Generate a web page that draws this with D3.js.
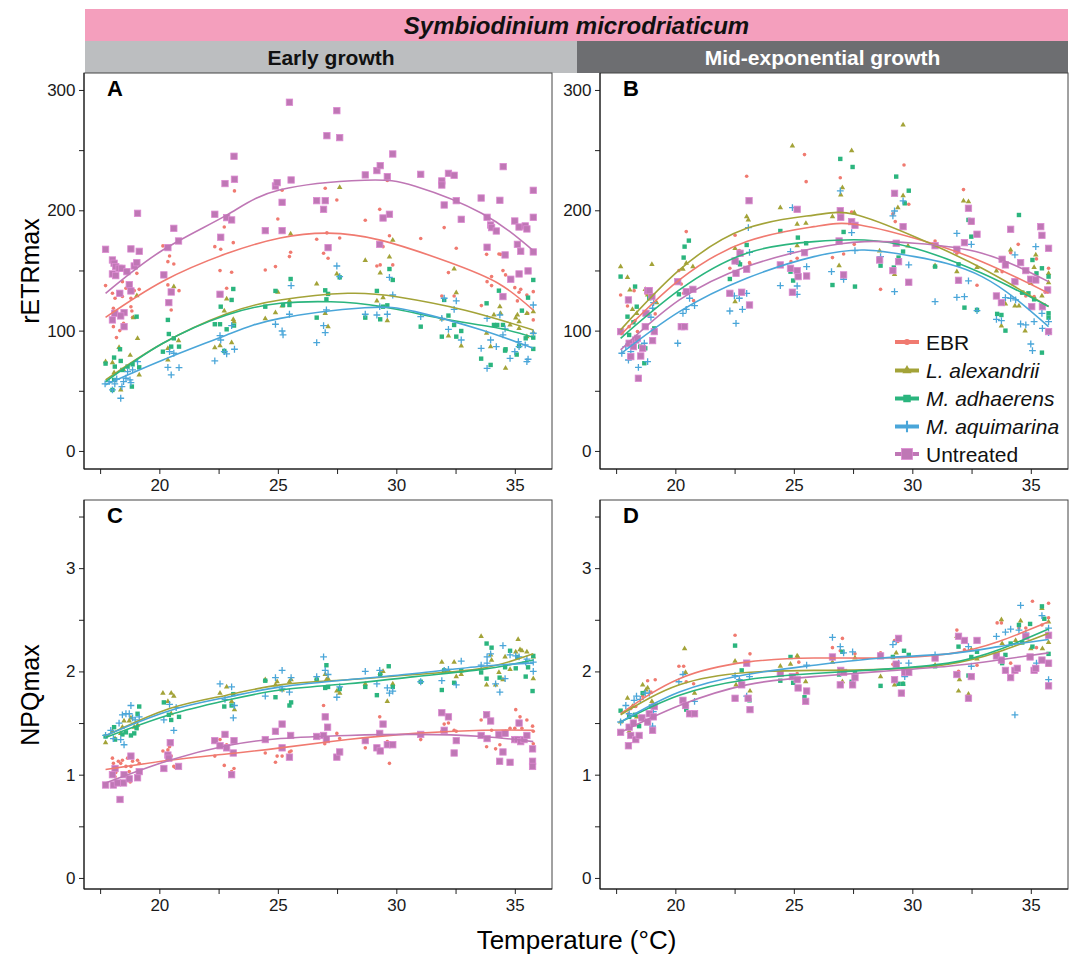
<!DOCTYPE html>
<html>
<head>
<meta charset="utf-8">
<script src="https://cdn.jsdelivr.net/npm/d3@7"></script>
<style>
  body { margin: 0; background: #fff; }
  text { font-family: "Liberation Sans", Arial, sans-serif; }
</style>
</head>
<body>
<svg id="chart" width="1073" height="954"></svg>
<script>
const treatments = ['EBR', 'L. alexandrii', 'M. adhaerens', 'M. aquimarina', 'Untreated'];
const italicName = [false, true, true, true, false];
const colors = ['#f07a70', '#a3a338', '#2bb57e', '#4aa6d9', '#bf77b5'];
const shapes = ['circle', 'triangle', 'square', 'plus', 'bigsquare'];

const xMajor = [20, 25, 30, 35];
const xMinor = [17.5, 22.5, 27.5, 32.5];
const retrMajor = [0, 100, 200, 300];
const retrMinor = [50, 150, 250];
const npqMajor = [0, 1, 2, 3];
const npqMinor = [0.5, 1.5, 2.5, 3.5];

// A: early growth, rETRmax  [temperature, value]
const A_EBR = [[17.73,137.4],[18.02,131],[18.13,126.9],[18.06,118.6],[18.06,103.3],[18.19,94.2],[18.33,100],[18.44,140.7],[18.44,128.3],[18.49,106.1],[18.59,135.2],[18.8,126.9],[18.8,119.9],[18.84,116.3],[18.94,133.2],[19.05,147.6],[19.15,134.3],[18.87,111.1],[20.15,170.4],[20.36,157.3],[20.36,138],[20.43,162],[20.61,155.4],[20.5,117.2],[20.83,133.2],[22.34,169.8],[22.56,149.9],[22.59,167.6],[22.74,186.1],[22.84,135.2],[23.05,148.5],[23.12,173.1],[23.17,216.1],[24.47,150.4],[24.9,153.2],[25,192.8],[25.18,216.6],[25.49,161.5],[25.54,165.1],[26.64,175.9],[27,218.3],[27.07,181.2],[26.93,164.3],[27.12,160.1],[27.49,208.6],[27.61,177],[28.69,191.7],[29.18,153.7],[29.3,200.8],[29.32,154.6],[29.62,224.7],[29.71,178.9],[29.85,154.6],[29.44,169.8],[31.03,176.5],[32.02,185.6],[32.2,148.2],[32.44,128.8],[32.53,168.4],[31.92,128.8],[33.81,163.4],[33.83,140.7],[34.02,137.4],[34.02,144.9],[34.33,163.7],[34.4,163.4],[34.5,149.9],[34.61,146.3],[35,135.7],[35.18,131.9],[35.25,134.3],[35.51,129.6],[35.78,132.4],[35.78,108.9],[35.11,124.7],[35.54,114.4],[33.59,120.8]];
const A_Lal = [[17.73,74.2],[18.02,73.4],[18.09,65.1],[18.3,86.1],[18.37,50.7],[18.77,79.5],[18.91,110.8],[19.05,129.1],[19.08,93.6],[19.15,63.2],[18.49,67.3],[20.61,136.6],[20.81,91.7],[20.36,85.3],[20.36,75.6],[22.34,85.9],[22.56,87.5],[22.74,116.3],[22.84,126.3],[23.05,90],[23.12,109.4],[23.15,107.5],[24.47,110],[24.9,115],[25,131.9],[25.18,120.5],[25.54,180.3],[25.49,124.7],[26.64,138.8],[27,114.4],[27.12,103.3],[27.49,147.1],[27.61,219.1],[28.69,158.4],[29.18,124.7],[29.32,148],[29.44,127.4],[29.62,108.3],[29.71,161.2],[29.85,175.1],[31.92,109.7],[32.2,95.6],[32.44,151.2],[32.53,131.6],[32.74,87.3],[33.81,97.8],[33.98,86.7],[34.12,113],[34.37,119.9],[34.4,114.4],[34.61,68.7],[34.8,104.7],[35.04,110.5],[35.11,113],[35.18,107.5],[35.51,114.4],[35.78,115.8],[35.78,98.3],[35.18,101.9],[35.51,95]];
const A_Mad = [[17.73,72.6],[18.09,77.6],[18.12,70.1],[18.34,84.5],[18.37,74.8],[18.44,67.3],[18.66,70.1],[18.84,53.5],[18.87,72],[19.04,111.6],[19.15,69.5],[18.02,50.7],[18.09,59],[20.36,108.9],[20.4,97.2],[20.5,86.7],[20.83,86.7],[20.15,82.5],[20.61,93.6],[22.34,105.3],[22.56,105.3],[22.59,119.9],[22.74,83.1],[22.84,101.1],[23.05,125.5],[23.12,134.6],[23.15,104.2],[24.47,119.9],[24.9,133],[25.22,121.3],[25.54,142.9],[25.49,121.3],[26.64,110.8],[27,133.5],[27.05,126],[27.12,130.5],[27.61,144.3],[28.69,110.8],[29.18,133],[29.32,109.4],[29.44,119.9],[29.62,121],[29.71,151.2],[29.85,142.1],[31.03,103.3],[31.92,95],[32.02,125.5],[32.2,112.5],[32.44,104.7],[32.53,95],[32.74,99.7],[33.58,76.7],[33.81,122.7],[33.98,71.5],[34.12,104.7],[34.26,104.7],[34.33,133.2],[34.5,104.7],[34.59,83.4],[34.61,84.5],[35.08,80.1],[35.18,87.3],[35.46,93.6],[35.56,127.4],[35.78,142.1],[35.78,94.2],[35.78,84.8],[35.3,116.6]];
const A_Maq = [[17.71,55.7],[17.88,57.6],[18.02,50.7],[18.12,55.7],[18.2,59.8],[18.37,43.8],[18.42,53.5],[18.49,57.6],[18.59,60.4],[18.66,65.9],[18.76,59],[18.8,56.8],[18.87,67.3],[19.08,74.2],[20.36,69.5],[20.43,82.5],[20.5,63.2],[20.61,81.2],[20.83,69.3],[22.34,74.8],[22.56,95.8],[22.59,92.2],[22.74,82.5],[22.84,80.6],[23.05,104.2],[23.17,84.5],[24.9,105.3],[25.18,99.7],[25.22,96.4],[25.49,113.6],[25.56,137.4],[26.64,90],[26.93,104.2],[27,98.3],[27.05,117.2],[27.49,153.7],[27.61,144.9],[28.69,113.6],[29.18,113],[29.3,119.9],[29.62,113.6],[29.71,144.3],[29.85,129.6],[31.03,111.6],[31.92,110.2],[32.02,126.9],[32.2,101.1],[32.44,117.7],[32.53,124.7],[32.74,92.2],[33.58,85.3],[33.83,110.2],[33.83,68.7],[33.98,92.2],[34.22,86.7],[34.37,113],[34.59,101.4],[34.8,77],[35,82.5],[35.15,90.9],[35.18,86.7],[35.44,88.1],[35.51,74.2],[35.56,76.2],[35.78,121.3],[35.78,97.8],[34.5,96.4]];
const A_Unt = [[17.73,167.6],[18.02,158.7],[18.02,147.1],[18.09,156],[18.16,153.2],[18.16,145.7],[18.3,151.8],[18.42,151.8],[18.63,149],[18.8,167.9],[18.94,153.7],[19.05,156.5],[19.08,197.5],[19.15,165.9],[18.73,138.2],[18.8,133],[18.33,131],[18.51,115],[18.12,114.4],[18.02,108.9],[18.37,112.2],[18.51,103.3],[20.19,146.3],[20.36,169],[20.61,185],[20.81,174.5],[20.4,123.3],[20.5,132.1],[22.34,196.7],[22.59,177.6],[22.77,222.2],[22.84,193.9],[23.05,192],[23.15,244.9],[23.17,225.8],[22.56,130.2],[24.47,183.1],[24.9,220.2],[24.97,223],[25.18,206.6],[25.18,183.1],[25.56,225.2],[25.49,289.8],[26.64,208],[26.93,200.8],[27,208],[27.07,262],[27.12,169],[27.49,282.8],[27.61,260.4],[28.69,229.4],[29.18,233],[29.32,237.1],[29.62,228],[29.71,196.7],[29.85,246.8],[29.44,193.6],[29.3,171.7],[31.03,229.9],[31.92,224.4],[31.92,221],[32.02,204.4],[32.2,230.7],[32.44,229.1],[32.53,208],[32.74,192.5],[33.58,210.2],[33.83,194.2],[33.83,169.3],[33.98,187.8],[34.02,185.6],[34.22,182.8],[34.37,208.3],[34.51,236.3],[34.59,162.9],[35,191.1],[35.11,171.7],[35.18,186.1],[35.25,166],[35.44,187],[35.51,184.5],[35.56,149.6],[35.78,216.6],[35.78,194.2],[35.78,165.4],[35.18,147.1],[34.83,142.7],[34.5,128.3]];
const A_fitEBR = [[17.73,111],[20.15,141],[22.84,164],[25.1,177],[27.1,181],[29.37,175],[32.2,157],[34.33,139],[35.78,117]];
const A_fitLal = [[17.73,59],[20.15,89.5],[22.84,114],[25.1,125.5],[27.95,131],[30.08,128],[32.9,117],[35.78,100.5]];
const A_fitMad = [[17.73,57.6],[20.15,89.5],[22.84,113],[25.1,122.7],[27.24,124],[29.37,120],[32.2,109],[34.33,102],[35.78,94.5]];
const A_fitMaq = [[17.73,55],[20.15,75.6],[22.84,96.4],[25.1,110.2],[28.66,119],[30.8,115.8],[33.6,100.5],[35.78,85.3]];
const A_fitUnt = [[17.73,131],[20.15,167],[22.84,196],[25.1,217],[28.66,225],[30.8,220],[33.6,197.5],[35.78,166.5]];

// B: mid-exponential growth, rETRmax
const B_EBR = [[17.69,129.6],[17.98,120.5],[18.26,133.2],[18.3,108.3],[18.05,103.3],[18.4,99.2],[18.76,131],[18.97,131],[19.15,113.9],[20.15,149.9],[20.25,138.8],[20.46,182.3],[20.35,131],[20.77,124.9],[22.3,151.8],[22.52,179.2],[22.7,166.5],[23.01,228.3],[23.13,156.5],[23.15,155.4],[24.43,155.4],[24.88,157.3],[25.14,160.1],[25.45,246.3],[25.52,223.8],[26.63,160.7],[26.96,227.1],[27.1,163.7],[27.44,198.6],[27.55,171.7],[28.66,134.3],[29.18,197],[29.28,190.6],[29.65,237.7],[29.85,205],[30.96,174.5],[31.88,164.3],[32.16,217.2],[32.73,137.7],[33.79,149],[34.15,164.8],[34.47,171.7],[34.61,131],[34.79,128.8],[35.14,128.3],[35.24,159.6],[35.75,151.8],[35.61,131.9]];
const B_Lal = [[17.69,153.2],[17.98,144.3],[18.08,133.8],[18.19,117.7],[18.37,114.4],[18.73,134.3],[18.83,129.6],[19.01,155.1],[19.21,123.3],[20.32,151],[20.46,156],[20.74,153.2],[22.52,168.4],[22.52,124.1],[23.01,194.7],[23.08,192],[24.43,202.2],[24.94,253.5],[25.14,188.4],[25.14,170.6],[25.51,189.2],[26.63,194.7],[26.91,154],[26.98,212.7],[27.05,218.8],[27.44,249.6],[27.55,198.1],[28.62,166.2],[29.25,146.8],[29.39,202.2],[29.61,212.2],[29.61,270.9],[29.82,170.4],[30.96,154],[31.88,149],[32.16,207.8],[32.37,207.2],[32.49,189.2],[32.73,152.6],[33.55,149.6],[33.76,103.9],[33.93,122.2],[34.15,167],[34.33,120.5],[34.5,120.5],[34.76,99.7],[35,139.3],[35.21,162.9],[35.47,128.8],[35.75,147.6],[35.75,139.9],[35.14,152.6]];
const B_Mad = [[17.69,144.9],[17.98,111.6],[18.05,96.4],[18.23,106.9],[18.3,136.6],[18.37,119.9],[18.52,86.7],[18.69,72.9],[18.73,85.3],[18.83,113.6],[18.9,126.9],[19.11,101.9],[20.15,130.2],[20.35,160.7],[20.39,169.8],[20.57,174.8],[22.3,142.9],[22.66,156.5],[22.73,155.1],[23.01,171.2],[24.43,182.8],[24.86,149],[24.97,141.6],[25.17,177.3],[25.52,172.6],[26.63,137.9],[26.96,242.7],[27.1,182],[27.48,236],[27.58,136.6],[28.66,154],[29.22,152.4],[29.32,228],[29.42,160.7],[29.61,165.7],[29.68,205.8],[29.85,216.3],[30.96,153.2],[31.95,155.1],[32.2,119.1],[32.37,192],[32.49,178.1],[32.73,117.2],[33.58,113.9],[33.76,113],[33.93,100],[34.5,196.1],[34.64,131.6],[34.9,131],[35.07,158.7],[35.24,147.6],[35.47,151.8],[35.47,81.7],[35.75,144.9],[35.75,114.4],[35.75,110.8],[35.14,126]];
const B_Maq = [[17.74,81.2],[17.91,86.7],[18.02,75.6],[18.12,82.5],[18.44,69.5],[18.69,89.5],[18.83,74.2],[18.97,111.1],[19.04,118.6],[19.08,123.3],[20.1,89.5],[20.32,114.4],[20.46,117.7],[20.6,126.9],[20.81,120.8],[22.3,116.3],[22.49,128.8],[22.56,106.1],[22.7,126.9],[22.83,117.7],[23.01,131],[23.13,165.1],[23.08,185.6],[24.43,137.4],[24.86,165.7],[24.94,202.2],[25.14,137.1],[25.14,130.2],[25.54,153.2],[26.59,149],[26.96,216.1],[27.1,142.7],[27.44,181.4],[27.58,166.5],[28.66,161.5],[29.25,132.4],[29.18,195.3],[29.25,199.4],[29.61,207.8],[29.85,154.6],[30.96,124.1],[31.88,180.9],[31.88,127.7],[32.2,128.3],[32.37,141.3],[32.49,171.7],[32.73,116.6],[33.55,109.4],[33.76,108.3],[33.93,127.4],[34.15,126.9],[34.33,162.9],[34.36,125.5],[34.57,105.5],[34.79,104.7],[35,88.9],[35.07,83.4],[35.14,107.5],[35.21,169.8],[35.47,114.4],[35.49,101.9],[35.75,107.5],[35.75,98.3]];
const B_Unt = [[17.69,99.2],[18.02,125.5],[18.05,89.5],[18.12,78.4],[18.23,86.7],[18.33,92.2],[18.4,93.6],[18.44,60.4],[18.54,78.9],[18.62,85.3],[18.73,103.3],[18.76,114.4],[18.83,133.2],[18.9,133.2],[19.01,128.3],[19.04,91.7],[19.11,99.2],[20.1,140.7],[20.25,103.3],[20.39,103.3],[20.46,132.4],[20.74,134.3],[22.3,131],[22.52,157.9],[22.56,147.6],[22.73,164.3],[22.8,131.9],[23.01,151],[23.13,121.3],[23.11,208],[24.43,154.6],[24.86,151.8],[24.94,131.9],[25.14,200.8],[25.14,149.9],[25.18,144.9],[25.54,145.4],[25.45,164.8],[26.96,199.7],[26.98,194.2],[26.91,174.5],[27.1,146.3],[27.44,190.6],[27.58,187.5],[28.62,158.7],[29.18,149.9],[29.25,214.1],[29.32,172.6],[29.42,157.3],[29.61,186.4],[29.85,140.2],[30.96,170.6],[31.88,167.6],[31.95,141.8],[32.2,173.1],[32.37,201.7],[32.49,190.9],[32.73,180.1],[33.55,128.8],[33.76,123.3],[33.79,159.3],[33.93,154.6],[34.15,184.2],[34.33,140.7],[34.57,156.5],[34.79,149.9],[35,142.7],[35.21,142.1],[35.04,119.9],[35.42,186.4],[35.47,179.2],[35.49,119.9],[35.71,133.8],[35.75,168.4],[35.75,99.2]];
const B_fitEBR = [[17.69,96.4],[20.17,142.1],[23.01,174],[25.85,186.4],[27.55,188.4],[30.1,176.7],[32.94,157.3],[35.75,131]];
const B_fitLal = [[17.69,100.6],[20.17,150.4],[23.01,185],[25.85,196],[27.55,196.7],[30.1,178],[32.94,151.8],[35.75,120]];
const B_fitMad = [[17.69,93.6],[20.17,133.8],[23.01,164.3],[25.85,174],[27.98,175.3],[30.1,168.4],[32.94,147.6],[35.75,120]];
const B_fitMaq = [[17.69,80.6],[20.17,115.8],[23.01,143.5],[25.85,161.5],[27.98,167],[30.1,161.5],[32.94,144.9],[35.75,103.3]];
const B_fitUnt = [[17.69,84],[20.17,125.5],[23.01,153.2],[25.85,168.4],[27.98,174],[30.1,172.6],[32.94,164.3],[35.75,140.7]];

// C: early growth, NPQmax
const C_EBR = [[18.02,1.16],[18.06,1.11],[18.16,1.02],[18.27,1.13],[18.37,1.11],[18.44,1.14],[18.59,1.08],[18.66,1.16],[18.73,1.03],[18.77,0.93],[18.8,1.08],[18.87,1.13],[19.08,1.14],[19.15,1.11],[18.13,0.98],[20.15,1.23],[20.36,1.24],[20.43,1.27],[20.5,1.18],[20.61,1.08],[20.67,1.07],[22.34,1.18],[22.56,1.34],[22.74,1.09],[22.84,1.29],[23.05,1.03],[23.15,1.06],[24.47,1.21],[24.9,1.12],[24.97,1.18],[25.18,1.18],[25.49,1.22],[25.56,1.23],[26.93,1.67],[26.98,1.3],[27.49,1.4],[27.61,1.35],[28.69,1.26],[29.3,1.56],[29.44,1.48],[29.62,1.32],[29.71,1.11],[31.03,1.34],[31.92,1.42],[32.02,1.49],[32.2,1.5],[32.44,1.43],[32.53,1.42],[33.58,1.53],[33.81,1.27],[34.02,1.43],[34.19,1.25],[34.37,1.29],[34.61,1.42],[34.8,1.45],[35.04,1.63],[35.22,1.56],[35.3,1.45],[35.51,1.53],[35.75,1.47],[35.78,1.42],[35.78,1.3],[35,1.45]];
const C_Lal = [[17.73,1.31],[18.02,1.42],[18.13,1.35],[18.37,1.4],[18.44,1.46],[18.51,1.52],[18.73,1.52],[18.8,1.55],[18.94,1.46],[19.08,1.48],[20.15,1.79],[20.36,1.71],[20.5,1.79],[20.61,1.76],[20.5,1.59],[22.56,1.79],[22.84,1.85],[23.05,1.71],[23.17,1.63],[24.47,1.92],[24.9,1.87],[24.97,1.9],[25.18,1.82],[25.49,1.9],[25.56,1.92],[26.64,1.93],[27,1.97],[27.05,1.92],[27.12,1.93],[27.49,1.81],[27.61,1.79],[28.69,1.88],[29.32,1.98],[29.44,2],[29.62,1.71],[29.85,1.88],[31.92,2.09],[32.02,2.01],[32.2,2.01],[32.44,2.09],[32.53,1.95],[32.74,1.97],[33.58,2.34],[33.81,1.87],[33.98,2.16],[34.02,2.11],[34.19,1.87],[34.33,1.99],[34.59,2.14],[34.8,2.02],[35.04,2.19],[35.14,2.31],[35.22,2.21],[35.3,2.2],[35.51,2.19],[35.78,1.93],[35.78,2.14],[34.5,1.92]];
const C_Mad = [[17.73,1.37],[18.09,1.46],[18.13,1.34],[18.44,1.39],[18.59,1.41],[18.8,1.38],[18.94,1.4],[19.04,1.45],[19.15,1.66],[19.08,1.59],[20.19,1.7],[20.4,1.58],[20.5,1.53],[20.83,1.56],[22.74,1.66],[23.05,1.67],[23.12,1.78],[24.47,1.91],[24.9,1.75],[25.49,1.67],[25.56,1.7],[26.64,1.92],[27,1.84],[27.05,2.06],[27.12,1.85],[27.61,1.83],[28.69,1.85],[29.18,1.77],[29.32,1.97],[29.68,2.05],[29.85,1.85],[31.03,1.9],[31.92,1.82],[32.02,2.01],[32.44,1.89],[32.74,2.01],[33.58,1.99],[33.81,2.27],[34.02,2.23],[34.36,1.94],[34.59,2.04],[34.8,2.2],[35.04,2.03],[35.11,2.14],[35.46,1.95],[35.56,2.04],[35.75,1.81],[35.78,2.15],[33.81,1.93]];
const C_Maq = [[17.73,1.38],[17.95,1.43],[18.06,1.35],[18.3,1.5],[18.37,1.34],[18.44,1.58],[18.51,1.29],[18.59,1.59],[18.73,1.59],[18.8,1.67],[18.87,1.55],[18.98,1.53],[19.15,1.56],[20.19,1.53],[20.43,1.68],[20.61,1.43],[20.71,1.65],[22.56,1.88],[22.77,1.73],[23.05,1.85],[23.17,1.67],[23.12,1.55],[24.47,1.76],[24.9,1.94],[25.18,2.01],[25.18,1.83],[25.49,1.8],[25.56,1.94],[26.64,1.95],[26.93,2.14],[27,2.01],[27.12,1.97],[27.49,1.75],[27.61,1.85],[28.69,2],[29.18,1.88],[29.3,2.01],[29.62,1.84],[29.71,1.79],[29.85,1.81],[31.03,1.9],[31.92,1.91],[32.02,2.01],[32.2,2.02],[32.53,1.87],[32.74,2.1],[33.58,2.06],[33.83,2.14],[33.98,2.17],[34.19,1.88],[34.37,1.8],[34.5,2.25],[34.8,2.16],[35.04,2.15],[35.18,2.14],[35.46,2.09],[35.51,2.12],[35.78,2.09],[35.78,2],[34.59,1.93],[33.83,2.08]];
const C_Unt = [[17.73,0.9],[18.02,1],[18.06,0.9],[18.13,1.06],[18.23,0.92],[18.34,0.76],[18.49,0.92],[18.51,1],[18.73,0.96],[18.8,1.18],[19.08,0.97],[19.15,1.03],[20.19,1.06],[20.36,1.19],[20.46,1.31],[20.4,1.16],[20.81,1.08],[22.34,1.33],[22.56,1.28],[22.77,1.39],[22.84,1.26],[23.05,1],[23.15,1.33],[23.12,1.21],[24.47,1.34],[24.9,1.42],[25.18,1.26],[25.18,1.49],[25.49,1.17],[25.54,1.38],[26.64,1.37],[26.93,1.38],[27,1.56],[27.05,1.34],[27.1,1.46],[27.49,1.17],[27.61,1.22],[28.69,1.33],[29.18,1.26],[29.3,1.4],[29.32,1.23],[29.44,1.49],[29.62,1.29],[29.85,1.29],[31.03,1.39],[31.92,1.6],[32.02,1.43],[32.2,1.56],[32.44,1.21],[32.53,1.33],[33.58,1.38],[33.81,1.58],[33.98,1.52],[34.33,1.39],[34.5,1.22],[34.59,1.4],[34.8,1.12],[35,1.34],[35.11,1.34],[35.18,1.5],[35.25,1.32],[35.39,1.34],[35.51,1.38],[35.75,1.25],[35.75,1.13],[35.75,1.08],[34.36,1.13],[33.83,1.35]];
const C_fitEBR = [[17.73,1.05],[20.43,1.14],[22.84,1.2],[25.11,1.26],[27.95,1.34],[30.78,1.4],[33.62,1.43],[35.78,1.43]];
const C_fitLal = [[17.73,1.375],[20.43,1.64],[22.84,1.77],[25.11,1.87],[27.95,1.92],[30.78,1.97],[33.62,2.03],[35.78,2.17]];
const C_fitMad = [[17.73,1.36],[20.43,1.58],[22.84,1.72],[25.11,1.82],[27.95,1.88],[30.78,1.95],[33.62,2.02],[35.78,2.11]];
const C_fitMaq = [[17.73,1.38],[20.43,1.62],[22.84,1.75],[25.11,1.85],[27.95,1.92],[30.78,1.98],[33.62,2.05],[35.78,2.08]];
const C_fitUnt = [[17.73,0.92],[20.43,1.14],[22.84,1.28],[25.11,1.35],[27.95,1.38],[30.78,1.39],[33.62,1.37],[35.78,1.32]];

// D: mid-exponential growth, NPQmax
const D_EBR = [[18.02,1.59],[18.12,1.64],[18.33,1.66],[18.47,1.56],[18.62,1.76],[18.83,1.91],[18.97,1.8],[19.15,1.92],[20.15,2.05],[20.35,2.05],[20.46,1.9],[20.77,1.88],[22.52,2.35],[22.7,1.92],[23.15,2.17],[24.43,1.97],[25.14,1.98],[25.21,2.09],[26.63,2.23],[26.96,2.2],[27.05,2.32],[27.58,2.17],[28.66,2.18],[29.18,2.07],[29.25,2.3],[29.39,2.29],[29.61,1.79],[29.85,2.16],[30.96,2.14],[31.88,2.4],[31.95,2],[32.2,2.21],[32.73,2.06],[33.58,2.47],[33.76,2.47],[34.15,2.08],[34.33,1.99],[34.5,2.42],[34.79,2.42],[35.07,2.68],[35.24,2.23],[35.47,2.45],[35.75,2.66],[35.75,2.52]];
const D_Lal = [[17.69,1.51],[17.98,1.74],[18.05,1.42],[18.19,1.66],[18.37,1.56],[18.62,1.87],[18.76,1.82],[18.83,1.84],[19.01,1.71],[20.39,2.22],[20.43,1.99],[20.81,1.79],[22.52,2.1],[22.56,1.87],[23.15,1.81],[24.43,2.05],[24.86,2.07],[25.14,2.15],[25.17,2.14],[25.5,1.9],[26.63,2.09],[27.05,1.9],[27.58,2.13],[28.66,1.95],[29.25,1.87],[29.32,2.18],[29.61,1.88],[30.96,2.06],[31.88,2.34],[31.95,1.81],[31.99,1.92],[32.37,1.78],[32.49,2.21],[32.73,2.12],[33.76,2.5],[33.79,2.27],[34.36,2.3],[34.57,2.49],[35,2.22],[35.47,2.61],[35.49,2.22],[35.75,2.48],[35.75,2.28],[35.75,2.06],[34.33,2.01],[34.79,2.34]];
const D_Mad = [[17.69,1.62],[18.05,1.56],[18.3,1.58],[18.47,1.47],[18.62,1.79],[18.83,1.5],[18.97,1.66],[20.43,1.66],[20.46,1.63],[22.52,2.25],[22.8,2.01],[23.13,1.72],[24.43,1.91],[24.86,2.14],[24.97,1.89],[25.45,1.75],[26.91,1.97],[27.05,2.19],[27.44,1.9],[27.58,1.99],[28.66,1.86],[29.18,2.14],[29.42,1.88],[29.61,1.88],[29.65,2.2],[29.85,2.16],[30.96,2.05],[31.95,2.24],[32.37,1.96],[32.49,2.14],[32.73,2.19],[33.79,2.08],[33.93,2.16],[34.15,2.27],[34.5,2.45],[34.64,2.28],[34.97,2.46],[35.07,2.24],[35.47,2.63],[35.57,2.51],[35.75,2.17],[35.75,2.34]];
const D_Maq = [[17.69,1.51],[17.91,1.67],[18.05,1.59],[18.26,1.72],[18.36,1.76],[18.52,1.73],[18.73,1.79],[18.9,1.79],[19.04,1.47],[19.07,1.61],[20.15,1.9],[20.32,1.97],[20.43,1.67],[20.81,1.71],[22.52,1.96],[22.7,1.92],[23.01,1.76],[23.13,1.95],[25.54,2.06],[26.63,2.33],[26.96,2.24],[27.1,2.18],[27.48,2.19],[29.18,2.26],[29.32,2.29],[29.42,2.08],[29.68,1.95],[29.85,2.08],[30.96,2.16],[32.37,2.24],[32.49,2.05],[33.55,2.34],[33.93,2.38],[34.15,2.41],[34.33,1.58],[34.5,2.4],[34.57,2.64],[34.79,2.37],[35.24,2.08],[35.47,2.54],[35.75,2.42],[35.75,1.92]];
const D_Unt = [[17.69,1.41],[18.02,1.28],[18.05,1.46],[18.12,1.38],[18.23,1.5],[18.33,1.34],[18.47,1.38],[18.59,1.55],[18.83,1.51],[18.9,1.59],[19.04,1.43],[19.07,1.56],[19.11,1.66],[20.32,1.72],[20.43,1.67],[20.6,1.59],[20.81,1.59],[22.52,1.74],[22.8,1.87],[23.01,2.08],[23.07,1.74],[23.15,1.63],[24.43,1.98],[24.94,1.95],[25.14,1.92],[25.18,1.84],[25.5,1.71],[25.54,1.81],[26.63,2.14],[26.96,1.87],[26.98,2.01],[27.1,1.99],[27.48,1.87],[27.58,1.94],[28.66,2.15],[29.25,1.92],[29.32,2.07],[29.42,2.32],[29.54,1.79],[29.68,1.99],[29.85,1.99],[30.96,2.13],[31.88,1.97],[31.95,2.34],[32.2,2.3],[32.37,1.74],[32.49,1.95],[32.73,2.3],[33.55,2.15],[33.76,2.11],[33.93,2.01],[34.15,1.94],[34.33,2.01],[34.43,2.03],[34.79,2.34],[34.97,2.14],[35.14,2.01],[35.21,2.03],[35.47,2.11],[35.75,2.35],[35.75,2.08],[35.75,1.86]];
const D_fitEBR = [[17.69,1.59],[20.17,1.93],[23.01,2.09],[25.85,2.13],[28.69,2.13],[31.52,2.17],[33.65,2.29],[35.75,2.48]];
const D_fitLal = [[17.69,1.58],[20.17,1.87],[23.01,1.99],[25.85,2.01],[28.69,2.02],[31.52,2.07],[33.65,2.19],[35.75,2.37]];
const D_fitMad = [[17.69,1.51],[20.17,1.77],[23.01,1.92],[25.85,1.98],[28.69,2.02],[31.52,2.08],[33.65,2.21],[35.75,2.41]];
const D_fitMaq = [[17.69,1.51],[20.17,1.8],[23.01,1.97],[25.85,2.06],[28.69,2.13],[31.52,2.17],[33.65,2.24],[35.75,2.31]];
const D_fitUnt = [[17.69,1.41],[20.17,1.67],[23.01,1.87],[25.85,1.95],[28.69,2],[31.52,2.05],[33.65,2.11],[35.75,2.18]];

const panels = [
  {letter: 'A', left: 84, right: 552, top: 73, bottom: 469, yDomain: [-15, 314.1], major: retrMajor, minor: retrMinor,
   pts: [A_EBR, A_Lal, A_Mad, A_Maq, A_Unt], fits: [A_fitEBR, A_fitLal, A_fitMad, A_fitMaq, A_fitUnt]},
  {letter: 'B', left: 600, right: 1068, top: 73, bottom: 469, yDomain: [-15, 314.1], major: retrMajor, minor: retrMinor,
   pts: [B_EBR, B_Lal, B_Mad, B_Maq, B_Unt], fits: [B_fitEBR, B_fitLal, B_fitMad, B_fitMaq, B_fitUnt]},
  {letter: 'C', left: 84, right: 552, top: 500, bottom: 889, yDomain: [-0.107, 3.66], major: npqMajor, minor: npqMinor,
   pts: [C_EBR, C_Lal, C_Mad, C_Maq, C_Unt], fits: [C_fitEBR, C_fitLal, C_fitMad, C_fitMaq, C_fitUnt]},
  {letter: 'D', left: 600, right: 1068, top: 500, bottom: 889, yDomain: [-0.107, 3.66], major: npqMajor, minor: npqMinor,
   pts: [D_EBR, D_Lal, D_Mad, D_Maq, D_Unt], fits: [D_fitEBR, D_fitLal, D_fitMad, D_fitMaq, D_fitUnt]}
];

const svg = d3.select('#chart');

function drawShape(sel, shape, color, k) {
  if (shape === 'circle') {
    sel.append('circle').attr('r', 1.8 * k).attr('fill', color);
  } else if (shape === 'triangle') {
    sel.append('path').attr('d', d3.symbol(d3.symbolTriangle, 13 * k * k)()).attr('fill', color);
  } else if (shape === 'square') {
    const s = 4.4 * k;
    sel.append('rect').attr('x', -s / 2).attr('y', -s / 2).attr('width', s).attr('height', s).attr('fill', color);
  } else if (shape === 'plus') {
    const s = 3.4 * k;
    sel.append('path').attr('d', `M${-s},0H${s}M0,${-s}V${s}`)
      .attr('stroke', color).attr('stroke-width', 1.3 * Math.min(k, 1.6)).attr('fill', 'none');
  } else {
    const s = 6.4 * k;
    sel.append('rect').attr('x', -s / 2).attr('y', -s / 2).attr('width', s).attr('height', s)
      .attr('fill', color).attr('stroke', d3.color(color).brighter(0.4)).attr('stroke-width', 0.8);
  }
}

// strips
svg.append('rect').attr('x', 85).attr('y', 9).attr('width', 983).attr('height', 32).attr('fill', '#f49fbd');
svg.append('text').attr('x', 576.5).attr('y', 33.5).attr('text-anchor', 'middle')
  .attr('font-size', 24).attr('font-weight', 'bold').attr('font-style', 'italic').attr('fill', '#111')
  .text('Symbiodinium microdriaticum');
svg.append('rect').attr('x', 85).attr('y', 41).attr('width', 492).attr('height', 32).attr('fill', '#bcbec0');
svg.append('rect').attr('x', 577).attr('y', 41).attr('width', 491).attr('height', 32).attr('fill', '#6d6e71');
svg.append('text').attr('x', 331).attr('y', 64.5).attr('text-anchor', 'middle')
  .attr('font-size', 21).attr('font-weight', 'bold').attr('fill', '#111').text('Early growth');
svg.append('text').attr('x', 822.5).attr('y', 64.5).attr('text-anchor', 'middle')
  .attr('font-size', 21).attr('font-weight', 'bold').attr('fill', '#fff').text('Mid-exponential growth');

panels.forEach((p, pi) => {
  const x = d3.scaleLinear().domain([16.82, 36.57]).range([p.left, p.right]);
  const y = d3.scaleLinear().domain(p.yDomain).range([p.bottom, p.top]);
  const g = svg.append('g');

  g.append('rect').attr('x', p.left).attr('y', p.top).attr('width', p.right - p.left).attr('height', p.bottom - p.top)
    .attr('fill', '#fff').attr('stroke', '#444').attr('stroke-width', 1);

  const clipId = 'clip' + pi;
  svg.append('clipPath').attr('id', clipId).append('rect')
    .attr('x', p.left).attr('y', p.top).attr('width', p.right - p.left).attr('height', p.bottom - p.top);
  const plot = g.append('g').attr('clip-path', `url(#${clipId})`);

  p.pts.forEach((arr, si) => {
    plot.append('g').selectAll('g').data(arr).join('g')
      .attr('transform', d => `translate(${x(d[0])},${y(d[1])})`)
      .each(function () { drawShape(d3.select(this), shapes[si], colors[si], 1); });
  });

  const line = d3.line().x(d => x(d[0])).y(d => y(d[1])).curve(d3.curveNatural);
  p.fits.forEach((arr, si) => {
    plot.append('path').attr('d', line(arr)).attr('fill', 'none')
      .attr('stroke', colors[si]).attr('stroke-width', 1.6);
  });

  const yAxis = d3.axisLeft(y).tickValues(p.major.concat(p.minor)).tickSize(5).tickPadding(3.5)
    .tickSizeOuter(0).tickFormat(d => p.major.includes(d) ? d : '');
  const ya = g.append('g').attr('transform', `translate(${p.left},0)`).call(yAxis);
  const xAxis = d3.axisBottom(x).tickValues(xMajor.concat(xMinor)).tickSize(5).tickPadding(4.5)
    .tickSizeOuter(0).tickFormat(d => xMajor.includes(d) ? d : '');
  const xa = g.append('g').attr('transform', `translate(0,${p.bottom})`).call(xAxis);
  [ya, xa].forEach(a => {
    a.select('.domain').remove();
    a.selectAll('line').attr('stroke', '#222');
    a.selectAll('text').attr('font-size', 17).attr('fill', '#1a1a1a')
      .attr('font-family', '"Liberation Sans", Arial, sans-serif');
  });
  g.append('line').attr('x1', p.left).attr('x2', p.left).attr('y1', p.top).attr('y2', p.bottom).attr('stroke', '#111');
  g.append('line').attr('x1', p.left).attr('x2', p.right).attr('y1', p.bottom).attr('y2', p.bottom).attr('stroke', '#111');

  g.append('text').attr('x', p.left + 23).attr('y', p.top + 23).attr('font-size', 22)
    .attr('font-weight', 'bold').attr('fill', '#000').text(p.letter);
});

// axis titles
svg.append('text').attr('transform', 'translate(39,271) rotate(-90)').attr('text-anchor', 'middle')
  .attr('font-size', 25).attr('fill', '#000').text('rETRmax');
svg.append('text').attr('transform', 'translate(39,695) rotate(-90)').attr('text-anchor', 'middle')
  .attr('font-size', 25).attr('fill', '#000').text('NPQmax');
svg.append('text').attr('x', 576.5).attr('y', 949).attr('text-anchor', 'middle')
  .attr('font-size', 26).attr('fill', '#000').text('Temperature (°C)');

// legend inside panel B
const legendY = [342, 370.5, 398.5, 426.5, 454];
const lg = svg.append('g');
treatments.forEach((name, i) => {
  const row = lg.append('g').attr('transform', `translate(0,${legendY[i]})`);
  row.append('line').attr('x1', 895).attr('x2', 919).attr('y1', 0).attr('y2', 0)
    .attr('stroke', colors[i]).attr('stroke-width', 4);
  drawShape(row.append('g').attr('transform', 'translate(907,0)'), shapes[i], colors[i], 1.7);
  row.append('text').attr('x', 926).attr('y', 7.5).attr('font-size', 21)
    .attr('font-style', italicName[i] ? 'italic' : 'normal').attr('fill', '#111').text(name);
});
</script>
</body>
</html>
